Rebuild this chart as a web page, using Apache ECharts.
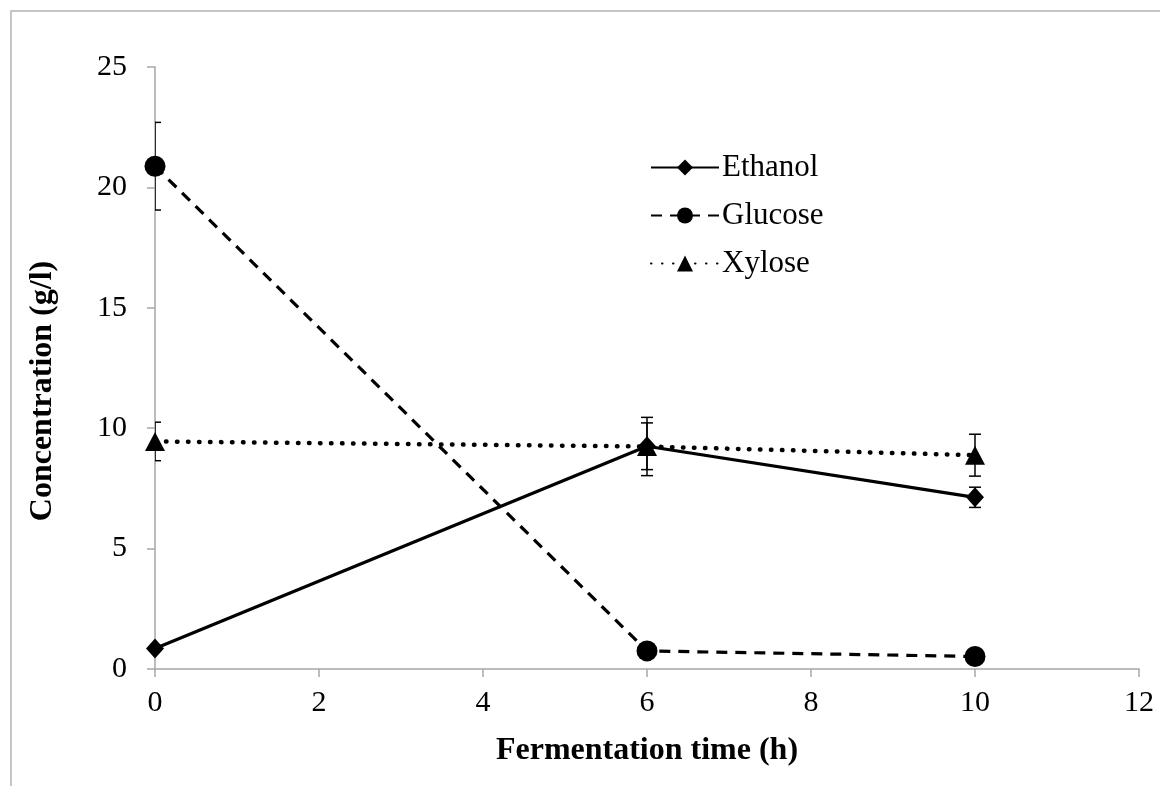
<!DOCTYPE html>
<html>
<head>
<meta charset="utf-8">
<script src="https://cdn.jsdelivr.net/npm/echarts@6/dist/echarts.min.js"></script>
<style>
  html, body { margin: 0; padding: 0; background: #fff; }
  #chart { width: 1160px; height: 786px; }
</style>
</head>
<body>
<div id="chart"></div>
<script>
// Fermentation time points (h)
const timeH = [0, 6, 10];

// Concentrations (g/l) and their standard deviations
const ethanol = [0.85, 9.25, 7.13];
const ethanolErr = [0, 0.97, 0.42];
const glucose = [20.88, 0.75, 0.52];
const glucoseErr = [1.82, 0, 0];
const xylose = [9.45, 9.24, 8.88];
const xyloseErr = [0.8, 1.21, 0.87];

const FONT = '"Liberation Serif", "Times New Roman", serif';
const AXIS_GREY = '#a6a6a6';

function pairs(vals) {
  return timeH.map((t, i) => [t, vals[i]]);
}
function errRows(vals, errs) {
  return timeH.map((t, i) => [t, vals[i] - errs[i], vals[i] + errs[i]]).filter((r, i) => errs[i] > 0);
}

// Error bars: vertical whisker with horizontal caps
function errorBarSeries(vals, errs) {
  return {
    type: 'custom',
    clip: true,
    z: 1,
    silent: true,
    data: errRows(vals, errs),
    renderItem: function (params, api) {
      const x = api.value(0);
      const lo = api.coord([x, api.value(1)]);
      const hi = api.coord([x, api.value(2)]);
      const half = 6;
      const style = { stroke: '#000', lineWidth: 1.5, fill: null };
      return {
        type: 'group',
        children: [
          { type: 'line', shape: { x1: lo[0], y1: lo[1], x2: hi[0], y2: hi[1] }, style: style },
          { type: 'line', shape: { x1: lo[0] - half, y1: lo[1], x2: lo[0] + half, y2: lo[1] }, style: style },
          { type: 'line', shape: { x1: hi[0] - half, y1: hi[1], x2: hi[0] + half, y2: hi[1] }, style: style }
        ]
      };
    }
  };
}

const chart = echarts.init(document.getElementById('chart'), null, { renderer: 'canvas' });

chart.setOption({
  backgroundColor: '#fff',
  animation: false,
  graphic: [{
    type: 'polyline',
    shape: { points: [[11, 800], [11, 11], [1180, 11]] },
    style: { stroke: '#b3b3b3', lineWidth: 1.5, fill: null },
    silent: true
  }],
  grid: { left: 155, right: 21, top: 67, bottom: 117, containLabel: false },
  legend: {
    orient: 'vertical',
    left: 645,
    top: 147,
    itemWidth: 68,
    itemHeight: 20,
    itemGap: 17,
    textStyle: { fontFamily: FONT, fontSize: 31, color: '#000', lineHeight: 22, padding: [0, 0, 0, -2] },
    data: ['Ethanol', 'Glucose', 'Xylose']
  },
  xAxis: {
    type: 'value',
    min: 0, max: 12, interval: 2,
    name: 'Fermentation time (h)',
    nameLocation: 'middle',
    nameGap: 66,
    nameTextStyle: { fontFamily: FONT, fontSize: 32, fontWeight: 'bold', color: '#000' },
    axisLine: { show: true, onZero: false, lineStyle: { color: AXIS_GREY, width: 1.5 } },
    axisTick: { show: true, inside: false, length: 8, lineStyle: { color: AXIS_GREY, width: 1.5 } },
    axisLabel: { fontFamily: FONT, fontSize: 30, color: '#000', margin: 19 },
    splitLine: { show: false }
  },
  yAxis: {
    type: 'value',
    min: 0, max: 25, interval: 5,
    name: 'Concentration (g/l)',
    nameLocation: 'middle',
    nameGap: 96,
    nameTextStyle: { fontFamily: FONT, fontSize: 32, fontWeight: 'bold', color: '#000', padding: [0, 0, 0, -46] },
    axisLine: { show: true, lineStyle: { color: AXIS_GREY, width: 1.5 } },
    axisTick: { show: true, inside: false, length: 8, lineStyle: { color: AXIS_GREY, width: 1.5 } },
    axisLabel: { fontFamily: FONT, fontSize: 30, color: '#000', margin: 28 },
    splitLine: { show: false }
  },
  series: [
    errorBarSeries(ethanol, ethanolErr),
    errorBarSeries(glucose, glucoseErr),
    errorBarSeries(xylose, xyloseErr),
    {
      name: 'Ethanol',
      type: 'line',
      data: pairs(ethanol),
      symbol: 'diamond',
      symbolSize: [18, 20],
      z: 3,
      lineStyle: { color: '#000', width: 3.2, type: 'solid' },
      itemStyle: { color: '#000', borderWidth: 0 }
    },
    {
      name: 'Glucose',
      type: 'line',
      data: pairs(glucose),
      symbol: 'circle',
      symbolSize: 21,
      z: 3,
      lineStyle: { color: '#000', width: 3.2, type: [11, 8] },
      itemStyle: { color: '#000', borderWidth: 0 }
    },
    {
      name: 'Xylose',
      type: 'line',
      data: pairs(xylose),
      symbol: 'triangle',
      symbolSize: [20, 19],
      z: 3,
      lineStyle: { color: '#000', width: 4.5, type: [0.5, 10.5], cap: 'round' },
      itemStyle: { color: '#000', borderWidth: 0 }
    }
  ]
});
</script>
</body>
</html>
